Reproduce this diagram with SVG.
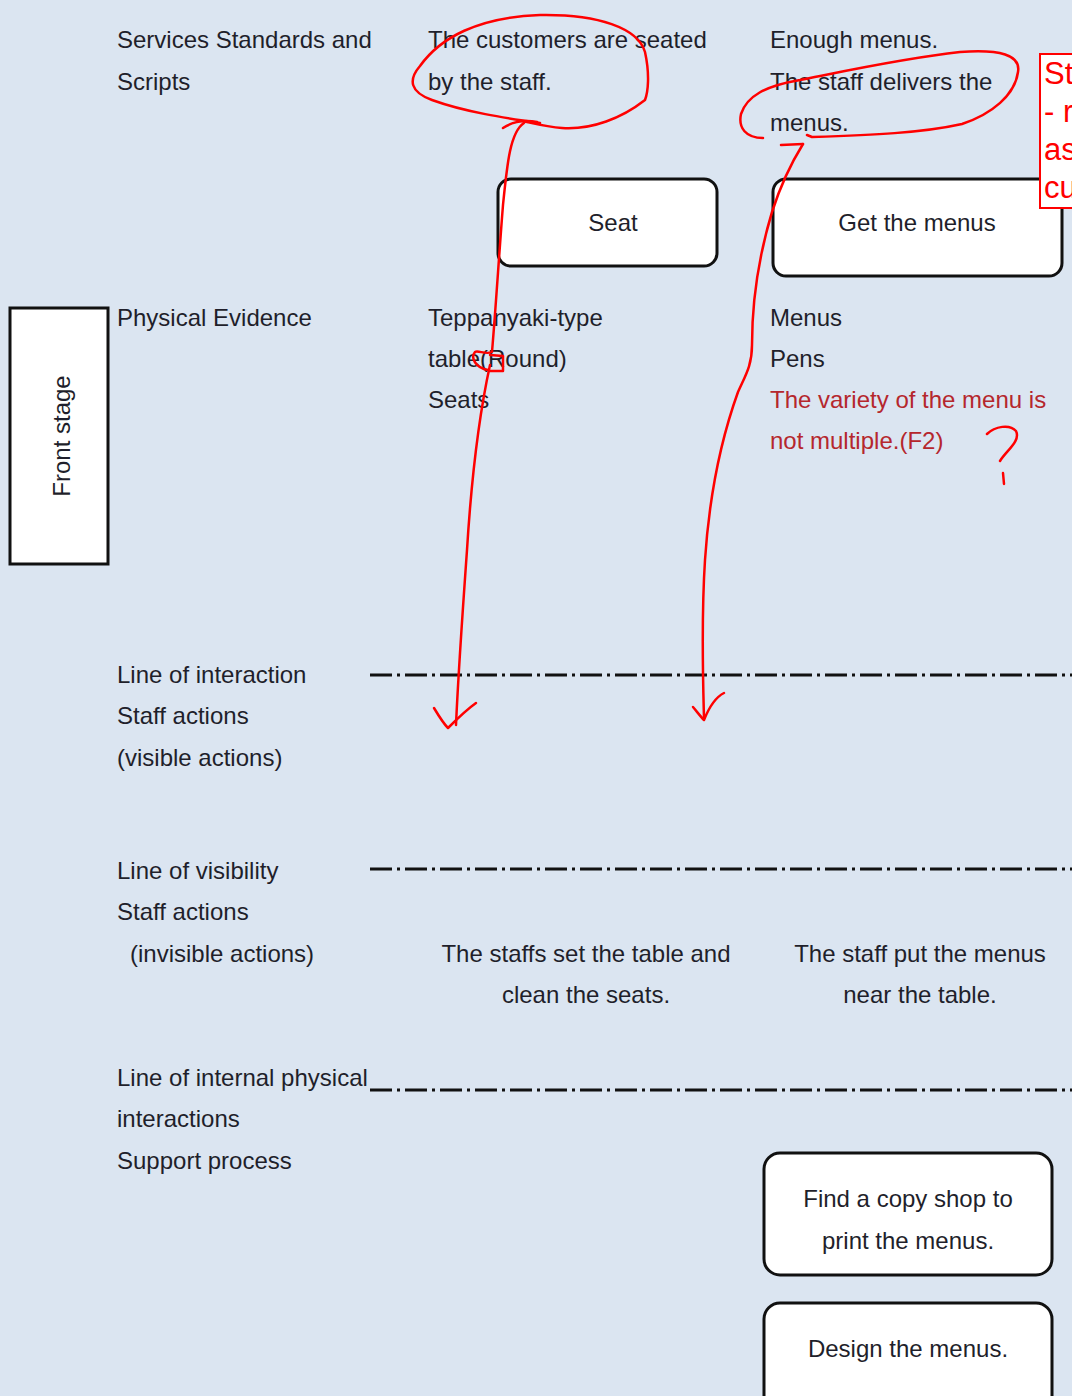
<svg xmlns="http://www.w3.org/2000/svg" width="1072" height="1396" viewBox="0 0 1072 1396">
  <defs>
    <style>
      .t { font-family: "Liberation Sans", Arial, sans-serif; font-size: 24px; fill: #1f1f2b; }
      .c { text-anchor: middle; }
      .warn { fill: #b5272d; }
      .box { fill: #ffffff; stroke: #111111; stroke-width: 3; }
      .line { stroke: #111111; stroke-width: 3; stroke-dasharray: 22 5 3 5; fill: none; }
      .ink { fill: none; stroke: #ff0000; stroke-width: 2.5; stroke-linecap: round; stroke-linejoin: round; }
      .note { font-family: "Liberation Sans", Arial, sans-serif; font-size: 31px; fill: #ff0000; }
    </style>
  </defs>

  <rect width="1072" height="1396" fill="#dbe5f1"/>

  <!-- row labels -->
  <g id="row-labels">
    <text class="t" x="117" y="48">Services Standards and</text>
    <text class="t" x="117" y="90">Scripts</text>
    <text class="t" x="117" y="326">Physical Evidence</text>
    <text class="t" x="117" y="683">Line of interaction</text>
    <text class="t" x="117" y="724">Staff actions</text>
    <text class="t" x="117" y="766">(visible actions)</text>
    <text class="t" x="117" y="879">Line of visibility</text>
    <text class="t" x="117" y="920">Staff actions</text>
    <text class="t" x="130" y="962">(invisible actions)</text>
    <text class="t" x="117" y="1086">Line of internal physical</text>
    <text class="t" x="117" y="1127">interactions</text>
    <text class="t" x="117" y="1169">Support process</text>
  </g>

  <!-- stage marker -->
  <g id="front-stage">
    <rect class="box" x="10" y="308" width="98" height="256"/>
    <text class="t c" transform="translate(70 436) rotate(-90)">Front stage</text>
  </g>

  <!-- swimlane separators -->
  <g id="separators">
    <line class="line" x1="370" y1="675" x2="1072" y2="675"/>
    <line class="line" x1="370" y1="869" x2="1072" y2="869"/>
    <line class="line" x1="370" y1="1090" x2="1072" y2="1090"/>
  </g>

  <!-- column: seating -->
  <g id="seat-standards">
    <text class="t" x="428" y="48">The customers are seated</text>
    <text class="t" x="428" y="90">by the staff.</text>
  </g>
  <g id="seat">
    <rect class="box" x="498" y="179" width="219" height="87" rx="13"/>
    <text class="t c" x="613" y="231">Seat</text>
  </g>
  <g id="seat-evidence">
    <text class="t" x="428" y="326">Teppanyaki-type</text>
    <text class="t" x="428" y="367">table(Round)</text>
    <text class="t" x="428" y="408">Seats</text>
  </g>
  <g id="seat-backstage">
    <text class="t c" x="586" y="962">The staffs set the table and</text>
    <text class="t c" x="586" y="1003">clean the seats.</text>
  </g>

  <!-- column: menus -->
  <g id="menu-standards">
    <text class="t" x="770" y="48">Enough menus.</text>
    <text class="t" x="770" y="90">The staff delivers the</text>
    <text class="t" x="770" y="131">menus.</text>
  </g>
  <g id="get-menus">
    <rect class="box" x="773" y="179" width="289" height="97" rx="13"/>
    <text class="t c" x="917" y="231">Get the menus</text>
  </g>
  <g id="menu-evidence">
    <text class="t" x="770" y="326">Menus</text>
    <text class="t" x="770" y="367">Pens</text>
    <text class="t warn" x="770" y="408">The variety of the menu is</text>
    <text class="t warn" x="770" y="449">not multiple.(F2)</text>
  </g>
  <g id="menu-backstage">
    <text class="t c" x="920" y="962">The staff put the menus</text>
    <text class="t c" x="920" y="1003">near the table.</text>
  </g>
  <g id="copy-shop">
    <rect class="box" x="764" y="1153" width="288" height="122" rx="16"/>
    <text class="t c" x="908" y="1207">Find a copy shop to</text>
    <text class="t c" x="908" y="1249">print the menus.</text>
  </g>
  <g id="design-menus">
    <rect class="box" x="764" y="1303" width="288" height="110" rx="16"/>
    <text class="t c" x="908" y="1357">Design the menus.</text>
  </g>

  <!-- comment callout, clipped at the right edge -->
  <g id="comment">
    <rect x="1040" y="54" width="60" height="154" fill="#ffffff" stroke="#ff0000" stroke-width="2"/>
    <text class="note" x="1044" y="84">St</text>
    <text class="note" x="1044" y="122">- r</text>
    <text class="note" x="1044" y="160">as</text>
    <text class="note" x="1044" y="198">cu</text>
  </g>

  <!-- hand-drawn markup -->
  <g id="connectors">
    <!-- loop round the seating standard -->
    <path class="ink" d="M 540,123 C 505,118 465,112 432,100 C 410,92 408,80 420,66 C 440,38 478,17 540,15 C 598,14 638,28 645,52 C 650,75 648,92 645,100 C 622,118 592,130 562,128 C 548,127 536,124 522,121"/>
    <path class="ink" d="M 503,128 C 512,122 525,120 537,122"/>
    <path class="ink" d="M 524,123 C 510,132 507,165 503,205 C 499,255 496,305 492,352 C 486,355 478,350 475,352 C 470,358 476,368 488,370 M 490,355 L 503,356 L 503,371 L 489,371 M 490,365 C 478,420 471,485 467,550 C 462,620 458,680 456,725"/>
    <path class="ink" d="M 434,708 C 440,718 444,724 448,728 C 458,718 466,710 476,703"/>

    <!-- loop round the menu standard -->
    <path class="ink" d="M 763,138 C 746,138 738,128 741,114 C 747,96 765,86 800,80 C 850,70 905,58 960,52 C 1000,49 1021,55 1018,72 C 1015,95 992,114 962,124 C 922,133 872,135 812,137 L 807,135"/>
    <path class="ink" d="M 781,145 L 803,144"/>
    <path class="ink" d="M 803,144 C 790,165 780,187 772,212 C 760,252 752,300 752,345 C 752,366 745,376 738,392 C 720,442 709,500 705,560 C 701,622 703,680 704,718"/>
    <path class="ink" d="M 693,707 C 698,713 701,717 704,720 C 710,705 716,697 724,693"/>

    <!-- question mark -->
    <path class="ink" d="M 987,434 C 995,426 1010,424 1016,431 C 1021,441 1006,451 1000,461 M 1003,473 L 1004,484"/>
  </g>
</svg>
